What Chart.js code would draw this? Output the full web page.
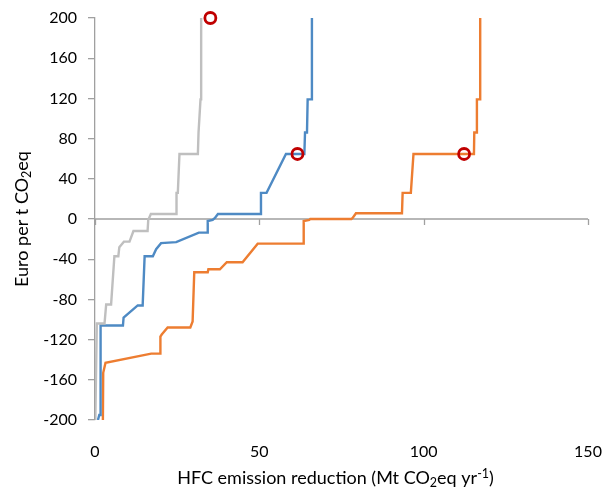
<!DOCTYPE html>
<html>
<head>
<meta charset="utf-8">
<script src="https://cdn.jsdelivr.net/npm/chart.js@4.4.1/dist/chart.umd.min.js"></script>
<style>
  html, body { margin: 0; padding: 0; background: #fff; }
  #wrap { width: 607px; height: 491px; position: relative; }
</style>
</head>
<body>
<div id="wrap"><canvas id="mac"></canvas></div>
<script>
// tick labels
const xTicks = [0, 50, 100, 150];
const yTicks = [-200, -160, -120, -80, -40, 0, 40, 80, 120, 160, 200];

// gray curve
const grayX = [0.1, 0.55, 2.9, 3.4, 4.9, 5.9, 7.1, 7.4, 8.8, 10.5, 11.7, 16.0, 16.2, 17.0, 24.7, 24.8, 25.2, 25.7, 31.3, 31.5, 32.1, 32.3, 32.3];
const grayY = [-200, -104, -104, -85, -85, -37, -37, -28, -22.5, -22.5, -12, -12, -1, 5, 5, 26, 26, 64.7, 64.7, 86, 119, 119, 200];

// blue curve
const blueX = [0.9, 1.3, 1.7, 1.7, 8.5, 8.7, 13.0, 14.5, 15.1, 17.6, 18.6, 20.1, 24.7, 31.6, 34.1, 34.3, 35.8, 36.5, 37.4, 50.5, 50.5, 52.2, 58.1, 63.7, 63.9, 64.5, 64.7, 66.0, 66.0];
const blueY = [-200, -195, -195, -106, -106, -98, -86, -86, -37, -37, -30, -24, -23, -13.6, -13.6, -2, -1, 1, 5, 5, 26, 26, 64.7, 64.7, 86, 86, 119, 119, 200];

// orange curve
const orangeX = [2.4, 2.5, 3.2, 17.1, 19.8, 19.9, 20.3, 22.1, 29.0, 29.7, 30.2, 34.3, 34.5, 38.0, 40.1, 44.9, 49.5, 63.4, 63.5, 65.2, 65.5, 78.0, 78.4, 79.4, 93.4, 93.6, 96.1, 96.9, 115.3, 115.4, 116.0, 116.2, 117.2, 117.2];
const orangeY = [-200, -153, -143, -134, -134, -117, -115, -108, -108, -102, -53, -53, -50, -50, -43, -43, -24.5, -24.5, -2, -1, 0, 0, 1, 5.7, 5.7, 26, 26, 64.7, 64.7, 86, 86, 119, 119, 200];

// red circle markers
const markerX = [35.1, 61.6, 112.3];
const markerY = [200, 64.7, 64.7];

const axisGray = "#a0a0a0";
const fontFamily = "Lato, 'Open Sans', sans-serif";

function toPoints(xs, ys) {
  return xs.map((x, i) => ({ x: x, y: ys[i] }));
}

function curve(xs, ys, color) {
  return {
    data: toPoints(xs, ys),
    showLine: true,
    borderColor: color,
    borderWidth: 2.4,
    pointRadius: 0,
    tension: 0,
    fill: false,
  };
}

// zero line with tick marks, and titles with sub/superscripts
const decorations = {
  id: "decorations",
  beforeDatasetsDraw(chart) {
    const { ctx, scales } = chart;
    const y0 = scales.y.getPixelForValue(0);
    ctx.save();
    ctx.strokeStyle = axisGray;
    ctx.lineWidth = 1.3;
    ctx.beginPath();
    ctx.moveTo(scales.x.getPixelForValue(xTicks[0]), y0);
    ctx.lineTo(scales.x.getPixelForValue(xTicks[xTicks.length - 1]), y0);
    xTicks.forEach((t) => {
      const px = Math.round(scales.x.getPixelForValue(t)) + 0.5;
      ctx.moveTo(px, y0);
      ctx.lineTo(px, y0 + 6);
    });
    ctx.stroke();
    ctx.restore();
  },
  afterDraw(chart) {
    const { ctx, chartArea } = chart;
    const big = "18px " + fontFamily;
    const small = "12.5px " + fontFamily;
    const parts = (list) => list.map((p) => {
      ctx.font = p.f;
      return Object.assign({ w: ctx.measureText(p.t).width }, p);
    });
    const drawRun = (list, cx, baseline) => {
      const items = parts(list);
      const total = items.reduce((s, p) => s + p.w, 0);
      let x = cx - total / 2;
      items.forEach((p) => {
        ctx.font = p.f;
        ctx.fillText(p.t, x, baseline + p.dy);
        x += p.w;
      });
    };
    ctx.save();
    ctx.fillStyle = "#000";
    ctx.textBaseline = "alphabetic";

    drawRun([
      { t: "HFC emission reduction (Mt CO", f: big, dy: 0 },
      { t: "2", f: small, dy: 3 },
      { t: "eq yr", f: big, dy: 0 },
      { t: "-1", f: small, dy: -6 },
      { t: ")", f: big, dy: 0 },
    ], (chartArea.left + chartArea.right) / 2 - 6, 484);

    ctx.translate(28, (chartArea.top + chartArea.bottom) / 2);
    ctx.rotate(-Math.PI / 2);
    drawRun([
      { t: "Euro per t CO", f: big, dy: 0 },
      { t: "2", f: small, dy: 3 },
      { t: "eq", f: big, dy: 0 },
    ], 0, 0);
    ctx.restore();
  },
};

const ctx = document.getElementById("mac").getContext("2d");
const macChart = new Chart(ctx, {
  type: "scatter",
  data: {
    datasets: [
      {
        data: toPoints(markerX, markerY),
        pointRadius: 5.5,
        pointBorderWidth: 2.8,
        pointBorderColor: "#c00000",
        pointBackgroundColor: "rgba(255,255,255,0)",
        clip: false,
      },
      curve(grayX, grayY, "#bfbfbf"),
      curve(blueX, blueY, "#4e8ac4"),
      curve(orangeX, orangeY, "#ed7d31"),
    ],
  },
  options: {
    responsive: true,
    maintainAspectRatio: false,
    animation: false,
    events: [],
    layout: {
      padding: { top: 18, right: 19, left: 0, bottom: 0 },
    },
    plugins: {
      legend: { display: false },
      tooltip: { enabled: false },
    },
    scales: {
      x: {
        type: "linear",
        min: xTicks[0],
        max: xTicks[xTicks.length - 1],
        afterBuildTicks: (scale) => {
          scale.ticks = xTicks.map((v) => ({ value: v }));
        },
        afterFit: (scale) => {
          scale.height = 71;
          scale.paddingLeft = 0;
          scale.paddingRight = 0;
        },
        grid: { display: false, drawTicks: false },
        border: { display: false },
        ticks: {
          padding: 22,
          color: "#000",
          font: { family: fontFamily, size: 16 },
        },
      },
      y: {
        type: "linear",
        min: yTicks[0],
        max: yTicks[yTicks.length - 1],
        afterBuildTicks: (scale) => {
          scale.ticks = yTicks.map((v) => ({ value: v }));
        },
        afterFit: (scale) => {
          scale.width = 95;
          scale.paddingTop = 0;
          scale.paddingBottom = 0;
        },
        grid: {
          drawOnChartArea: false,
          drawTicks: true,
          tickLength: 7,
          color: axisGray,
          lineWidth: 1.3,
        },
        border: { display: true, color: axisGray, width: 1.3 },
        ticks: {
          padding: 11,
          color: "#000",
          font: { family: fontFamily, size: 16 },
        },
      },
    },
  },
  plugins: [decorations],
});
</script>
</body>
</html>
